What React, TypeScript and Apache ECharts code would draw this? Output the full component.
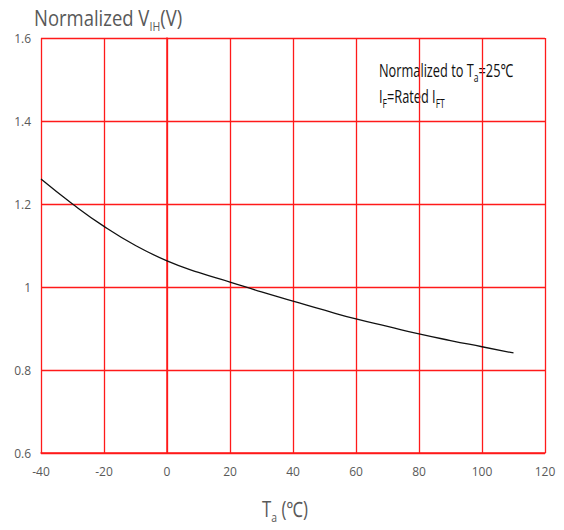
import React, { useEffect, useRef } from "react";
import * as echarts from "echarts";

const temps = [-40, -30, -20, -10, 0, 10, 20, 30, 40, 50, 60, 70, 80, 90, 100, 110];
const vih = [1.26, 1.2, 1.146, 1.1, 1.063, 1.035, 1.012, 0.988, 0.966, 0.944, 0.923, 0.905, 0.887, 0.871, 0.856, 0.841];
const xTicks = [-40, -20, 0, 20, 40, 60, 80, 100, 120];
const yTicks = [0.6, 0.8, 1.0, 1.2, 1.4, 1.6];

const FONT = "'Open Sans', 'Noto Sans', sans-serif";

export default function App() {
  const ref = useRef<HTMLDivElement>(null);
  useEffect(() => {
    document.body.style.margin = "0";
    const chart = echarts.init(ref.current!, null, { renderer: "svg" });
    const red = "#ff1a1a";
    const gray = "#595959";
    const sub = (size: number, color: string, pad: number) => ({
      fontSize: size,
      fill: color,
      fontFamily: FONT,
      verticalAlign: "bottom",
      padding: [pad, 0, 0, 0],
    });
    chart.setOption({
      animation: false,
      backgroundColor: "#ffffff",
      grid: { left: 41, right: 19, top: 38, bottom: 77, containLabel: false },
      xAxis: {
        type: "value",
        min: xTicks[0],
        max: xTicks[xTicks.length - 1],
        interval: 20,
        axisLine: { show: true, lineStyle: { color: red, width: 1.5 } },
        axisTick: { show: false },
        splitLine: { show: true, lineStyle: { color: red, width: 1.3 } },
        axisLabel: {
          color: gray,
          fontSize: 12,
          fontFamily: FONT,
          margin: 12,
          formatter: (v: number) => String(v),
        },
      },
      yAxis: {
        type: "value",
        min: yTicks[0],
        max: yTicks[yTicks.length - 1],
        interval: 0.2,
        axisLine: { show: true, lineStyle: { color: red, width: 1.5 } },
        axisTick: { show: false },
        splitLine: { show: true, lineStyle: { color: red, width: 1.3 } },
        axisLabel: {
          color: gray,
          fontSize: 12,
          fontFamily: FONT,
          margin: 10,
          formatter: (v: number) => {
            const r = Math.round(v * 10) / 10;
            return r === 1 ? "1" : r.toFixed(1);
          },
        },
      },
      series: [
        {
          type: "line",
          data: temps.map((t, i) => [t, vih[i]]),
          smooth: true,
          showSymbol: false,
          lineStyle: { color: "#111111", width: 1.3 },
        },
      ],
      graphic: [
        {
          type: "text",
          x: 34,
          y: 4,
          scaleX: 0.88,
          style: {
            text: "Normalized V{sub|IH}(V)",
            fill: gray,
            font: `21px ${FONT}`,
            verticalAlign: "top",
            rich: { sub: sub(12, gray, 16) },
          },
        },
        {
          type: "text",
          x: 379,
          y: 57,
          scaleX: 0.71,
          style: {
            text: "Normalized to T{sub|a}=25℃",
            fill: "#111111",
            font: `18px ${FONT}`,
            verticalAlign: "top",
            rich: { sub: sub(12, "#111111", 14) },
          },
        },
        {
          type: "text",
          x: 379,
          y: 83,
          scaleX: 0.71,
          style: {
            text: "I{sub|F}=Rated I{sub|FT}",
            fill: "#111111",
            font: `18px ${FONT}`,
            verticalAlign: "top",
            rich: { sub: sub(12, "#111111", 14) },
          },
        },
        {
          type: "text",
          x: 262,
          y: 495,
          scaleX: 0.8,
          style: {
            text: "T{sub|a} (℃)",
            fill: gray,
            font: `21px ${FONT}`,
            verticalAlign: "top",
            rich: { sub: sub(13, gray, 15) },
          },
        },
      ],
    });
    return () => chart.dispose();
  }, []);
  return <div ref={ref} style={{ width: 564, height: 530 }} />;
}
